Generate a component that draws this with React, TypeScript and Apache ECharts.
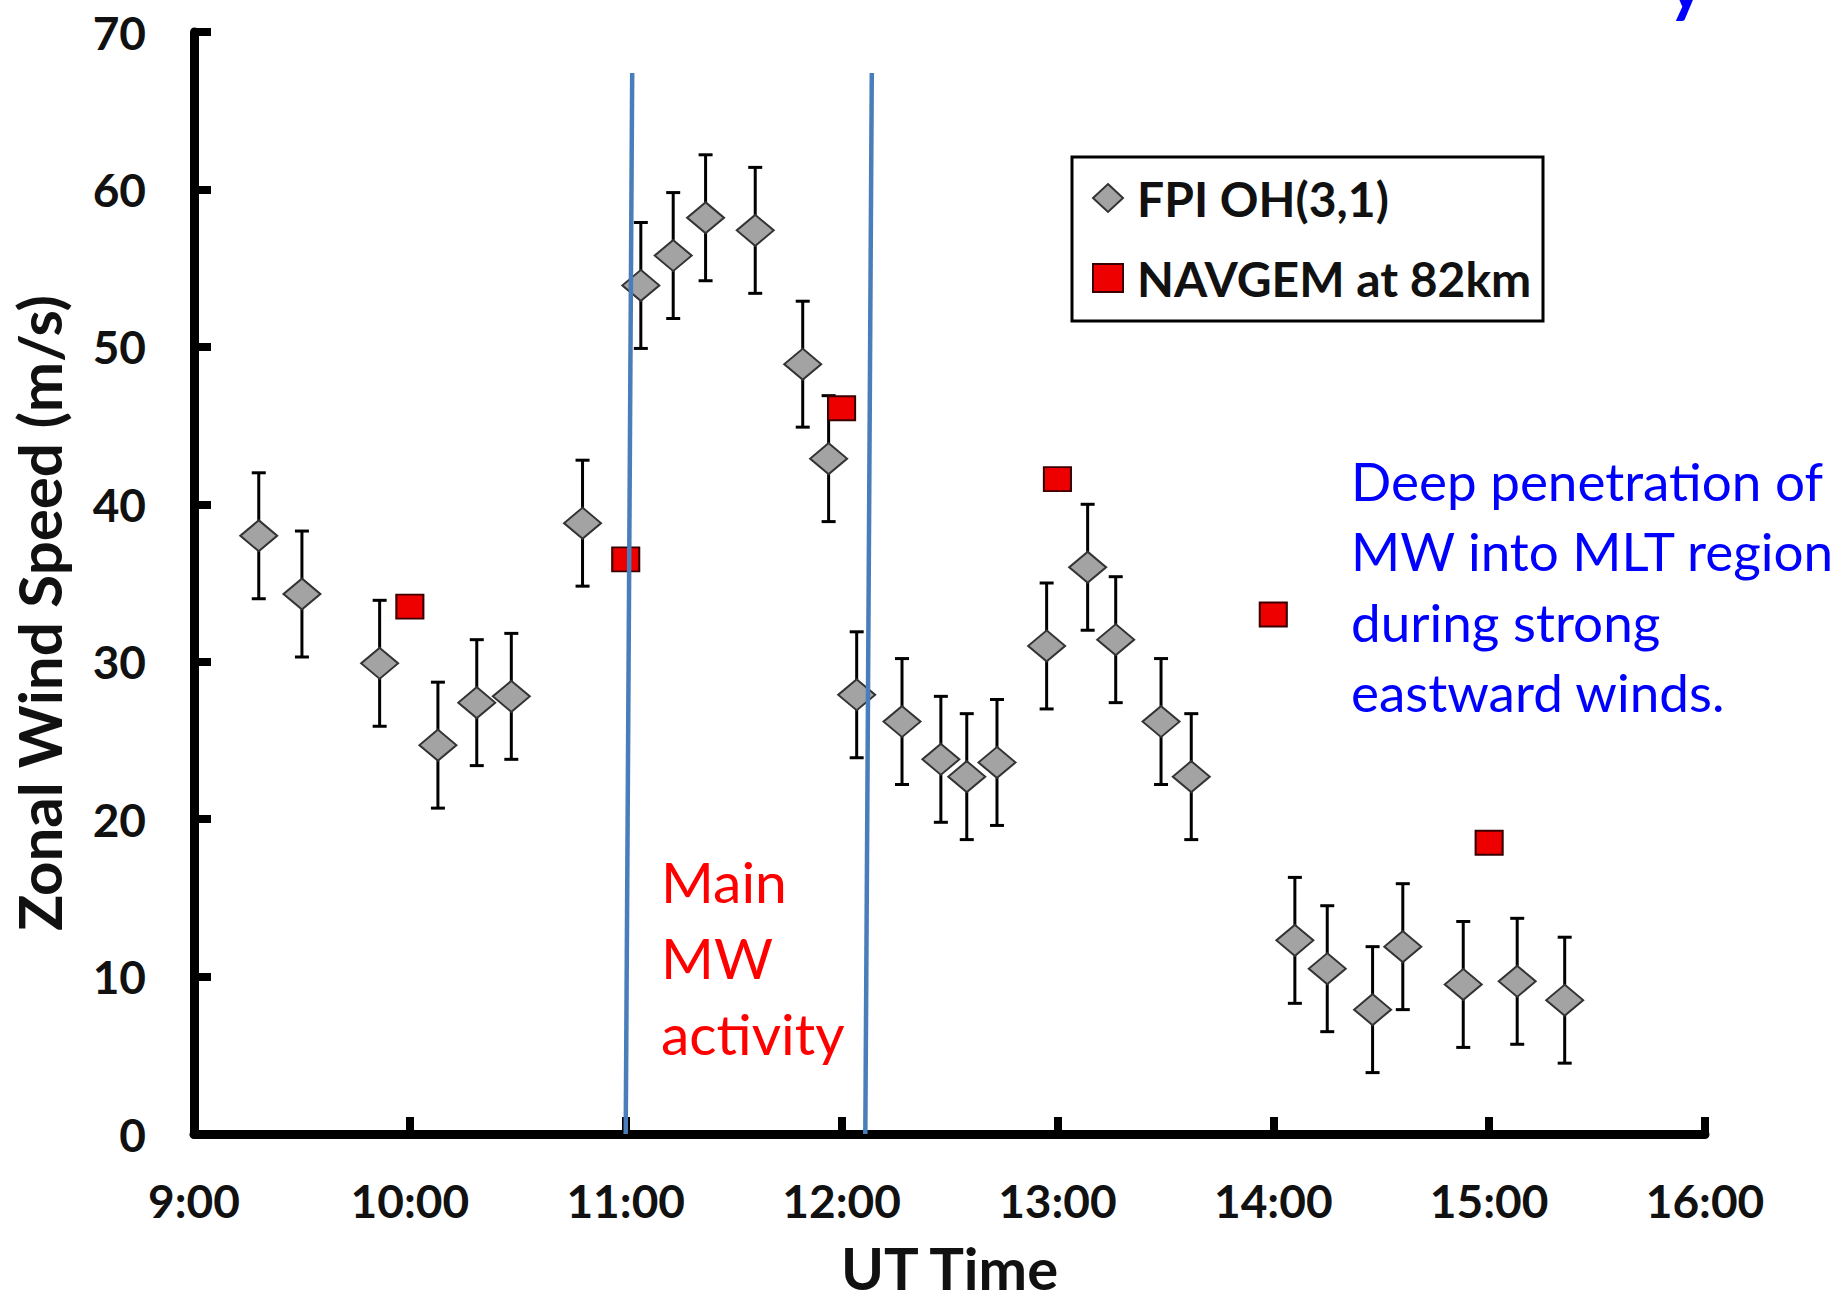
import React, { useEffect, useRef } from "react";
import * as echarts from "echarts";

// ---- data ----
const xTickHours = [9, 10, 11, 12, 13, 14, 15, 16];
const yTicks = [0, 10, 20, 30, 40, 50, 60, 70];

const fpiTime = [
  9.3, 9.5, 9.86, 10.13, 10.31, 10.47, 10.8, 11.07, 11.22, 11.37, 11.6, 11.82,
  11.94, 12.07, 12.28, 12.46, 12.58, 12.72, 12.95, 13.14, 13.27, 13.48, 13.62,
  14.1, 14.25, 14.46, 14.6, 14.88, 15.13, 15.35,
];
const fpiSpeed = [
  38.0, 34.3, 29.9, 24.7, 27.4, 27.8, 38.8, 53.9, 55.8, 58.2, 57.4, 48.9, 42.9,
  27.9, 26.2, 23.8, 22.7, 23.6, 31.0, 36.0, 31.4, 26.2, 22.7, 12.3, 10.5, 7.9,
  11.9, 9.5, 9.7, 8.5,
];
const fpiError = [
  4, 4, 4, 4, 4, 4, 4, 4, 4, 4, 4, 4, 4, 4, 4, 4, 4, 4, 4, 4, 4, 4, 4, 4, 4, 4,
  4, 4, 4, 4,
];

const navgemTime = [10, 11, 12, 13, 14, 15];
const navgemSpeed = [33.5, 36.5, 46.1, 41.6, 33.0, 18.5];

// Main MW activity boundaries: [time at top, time at bottom]
const mwBoundaryTop = 67.4;
const mwBoundaries = [
  [11.03, 11.0],
  [12.14, 12.11],
];

const fpiName = "FPI OH(3,1)";
const navgemName = "NAVGEM at 82km";
const redNote = "Main\nMW\nactivity";
const blueNote = "Deep penetration of\nMW into MLT region\nduring strong\neastward winds.";

export default function App() {
  const ref = useRef<HTMLDivElement>(null);

  useEffect(() => {
    const chart = echarts.init(ref.current!, null, { renderer: "svg" });

    const errData = fpiTime.map((t, i) => [
      t,
      fpiSpeed[i] - fpiError[i],
      fpiSpeed[i] + fpiError[i],
    ]);

    const option: any = {
      animation: false,
      backgroundColor: "#ffffff",
      grid: { left: 194, right: 137, top: 32, bottom: 160, containLabel: false },
      xAxis: {
        type: "value",
        min: xTickHours[0],
        max: xTickHours[xTickHours.length - 1],
        interval: 1,
        name: "UT Time",
        nameLocation: "middle",
        nameGap: 104,
        nameTextStyle: { fontFamily: "Lato", fontWeight: "bold", fontSize: 58, color: "#111" },
        axisLine: { onZero: false, lineStyle: { color: "#000", width: 9 } },
        axisTick: { inside: true, length: 17, lineStyle: { color: "#000", width: 8 } },
        axisLabel: {
          formatter: (v: number) => `${v}:00`,
          fontFamily: "Lato",
          fontWeight: "bold",
          fontSize: 46,
          color: "#111",
          margin: 43,
        },
        splitLine: { show: false },
      },
      yAxis: {
        type: "value",
        min: yTicks[0],
        max: yTicks[yTicks.length - 1],
        interval: 10,
        name: "Zonal Wind Speed (m/s)",
        nameLocation: "middle",
        nameGap: 125,
        nameTextStyle: {
          fontFamily: "Lato",
          fontWeight: "bold",
          fontSize: 60,
          color: "#111",
          padding: [0, 60, 0, 0],
        },
        axisLine: { show: true, onZero: false, lineStyle: { color: "#000", width: 9 } },
        axisTick: { show: true, inside: true, length: 17, lineStyle: { color: "#000", width: 8 } },
        axisLabel: {
          fontFamily: "Lato",
          fontWeight: "bold",
          fontSize: 46,
          color: "#111",
          margin: 48,
        },
        splitLine: { show: false },
      },
      legend: {
        orient: "vertical",
        left: 1072,
        top: 158,
        padding: [16, 20, 16, 20],
        itemGap: 32,
        itemWidth: 30,
        itemHeight: 28,
        data: [fpiName, navgemName],
        textStyle: {
          fontFamily: "Lato",
          fontWeight: "bold",
          fontSize: 48,
          color: "#111",
          padding: [0, 0, 0, 9],
        },
      },
      graphic: [
        {
          type: "rect",
          z: 1,
          shape: { x: 1072, y: 157, width: 471, height: 164 },
          style: { fill: "#fff", stroke: "#000", lineWidth: 3 },
        },
        {
          type: "text",
          x: 661,
          y: 843,
          style: {
            text: redNote,
            font: "57px Lato",
            fill: "#ff0000",
            lineHeight: 76,
            verticalAlign: "top",
          },
        },
        {
          type: "text",
          x: 1351,
          y: 445,
          style: {
            text: blueNote,
            font: "53px Lato",
            fill: "#0000ff",
            lineHeight: 70.5,
            verticalAlign: "top",
          },
        },
        {
          type: "text",
          x: 1668,
          y: 16,
          style: {
            text: "y",
            font: "bold 68px Lato",
            fill: "#0000ff",
            verticalAlign: "bottom",
          },
        },
      ],
      series: [
        {
          type: "custom",
          name: "error",
          z: 2,
          data: errData,
          encode: { x: 0, y: [1, 2] },
          renderItem: (params: any, api: any) => {
            const x = api.value(0);
            const lo = api.coord([x, api.value(1)]);
            const hi = api.coord([x, api.value(2)]);
            const hw = 7;
            const style = { stroke: "#000", lineWidth: 3 };
            return {
              type: "group",
              children: [
                { type: "line", shape: { x1: lo[0], y1: lo[1], x2: hi[0], y2: hi[1] }, style },
                { type: "line", shape: { x1: hi[0] - hw, y1: hi[1], x2: hi[0] + hw, y2: hi[1] }, style },
                { type: "line", shape: { x1: lo[0] - hw, y1: lo[1], x2: lo[0] + hw, y2: lo[1] }, style },
              ],
            };
          },
        },
        {
          type: "scatter",
          name: fpiName,
          z: 3,
          symbol: "diamond",
          symbolSize: [37, 31],
          itemStyle: { color: "#a3a3a3", borderColor: "#333", borderWidth: 2, opacity: 1 },
          data: fpiTime.map((t, i) => [t, fpiSpeed[i]]),
        },
        {
          type: "scatter",
          name: navgemName,
          z: 3,
          symbol: "rect",
          symbolSize: [27, 24],
          itemStyle: { color: "#ee0000", borderColor: "#3a0000", borderWidth: 2, opacity: 1 },
          data: navgemTime.map((t, i) => [t, navgemSpeed[i]]),
        },
        {
          type: "scatter",
          name: "boundaries",
          z: 5,
          data: [],
          markLine: {
            silent: true,
            symbol: ["none", "none"],
            label: { show: false },
            lineStyle: { color: "#4a7ebb", width: 4.5, type: "solid" },
            data: mwBoundaries.map(([top, bottom]) => [
              { coord: [top, mwBoundaryTop] },
              { coord: [bottom, 0] },
            ]),
          },
        },
      ],
    };

    chart.setOption(option);
    return () => chart.dispose();
  }, []);

  return (
    <div
      ref={ref}
      style={{ position: "fixed", left: 0, top: 0, width: 1842, height: 1301, background: "#fff" }}
    />
  );
}
